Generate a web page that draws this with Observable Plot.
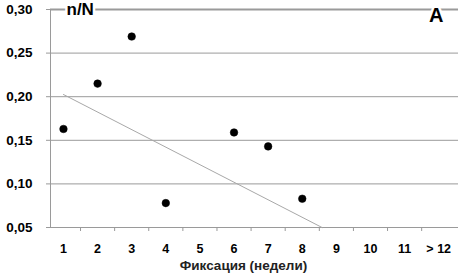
<!DOCTYPE html>
<html>
<head>
<meta charset="utf-8">
<script src="https://cdn.jsdelivr.net/npm/d3@7"></script>
<script src="https://cdn.jsdelivr.net/npm/@observablehq/plot@0.6"></script>
<style>
  html, body { margin: 0; padding: 0; background: #fff; }
  svg { display: block; overflow: visible; }
</style>
</head>
<body>
<div id="chart"></div>
<script>
const weeks = [1, 2, 3, 4, 6, 7, 8];
const ratio = [0.163, 0.215, 0.269, 0.078, 0.159, 0.143, 0.083];
const trendWeeks = [1, 8.58];
const trendRatio = [0.2025, 0.05];
const xTickValues = [1, 2, 3, 4, 5, 6, 7, 8, 9, 10, 11, 12];
const xTickLabels = ["1", "2", "3", "4", "5", "6", "7", "8", "9", "10", "11", "> 12"];
const xTickMarks = [1.5, 2.5, 3.5, 4.5, 5.5, 6.5, 7.5, 8.5, 9.5, 10.5, 11.5];
const yTicks = [0.05, 0.10, 0.15, 0.20, 0.25, 0.30];
const yGrid = [0.10, 0.15, 0.20, 0.25];
const yTop = [0.30];

const points = weeks.map((w, i) => ({w, r: ratio[i]}));
const trend = trendWeeks.map((w, i) => ({w, r: trendRatio[i]}));
const font = "'Liberation Sans', Arial, sans-serif";

const chart = Plot.plot({
  width: 460,
  height: 273,
  marginLeft: 50,
  marginRight: 2,
  marginTop: 9,
  marginBottom: 46,
  style: {fontFamily: font, background: "#fff", overflow: "visible"},
  x: {domain: [0.62, 12.58]},
  y: {domain: [0.05, 0.30]},
  marks: [
    Plot.ruleY(yGrid, {stroke: "#9a9a9a", strokeWidth: 1}),
    Plot.ruleY(yTop, {stroke: "#9a9a9a", strokeWidth: 1.8}),
    Plot.ruleY([0.05], {stroke: "#9a9a9a", strokeWidth: 1}),
    Plot.ruleX([0.62], {stroke: "#9a9a9a", strokeWidth: 1}),
    Plot.axisY({ticks: yTicks, tickSize: 4, tickPadding: 14, stroke: "#9a9a9a",
      tickFormat: d => d.toFixed(2).replace(".", ","), fontSize: 13.5, fontWeight: "bold", fill: "#000", label: null}),
    Plot.axisX({ticks: xTickMarks, tickSize: 4, stroke: "#9a9a9a", tickFormat: () => "", label: null}),
    Plot.axisX({ticks: xTickValues, tickSize: 0, tickPadding: 17,
      tickFormat: d => xTickLabels[xTickValues.indexOf(d)], fontSize: 12.5, fontWeight: "bold", fill: "#000", label: null}),
    Plot.line(trend, {x: "w", y: "r", stroke: "#a8a8a8", strokeWidth: 1}),
    Plot.dot(points, {x: "w", y: "r", r: 3.8, fill: "#000", stroke: "#000", strokeWidth: 0.5}),
    Plot.text(["n/N"], {frameAnchor: "top-left", dx: 16, dy: 0.5, lineAnchor: "middle", textAnchor: "start",
      fontSize: 17, fontWeight: "bold", fill: "#000", stroke: "#fff", strokeWidth: 5}),
    Plot.text(["A"], {frameAnchor: "top-right", dx: -15, dy: 6, lineAnchor: "middle", textAnchor: "end",
      fontSize: 20, fontWeight: "bold", fill: "#000", stroke: "#fff", strokeWidth: 5}),
    Plot.text(["Фиксация (недели)"], {frameAnchor: "bottom", dx: -11, dy: 38, lineAnchor: "middle",
      fontSize: 13.5, fontWeight: "bold", fill: "#222", letterSpacing: "0.3px"})
  ]
});
document.getElementById("chart").appendChild(chart);
</script>
</body>
</html>
